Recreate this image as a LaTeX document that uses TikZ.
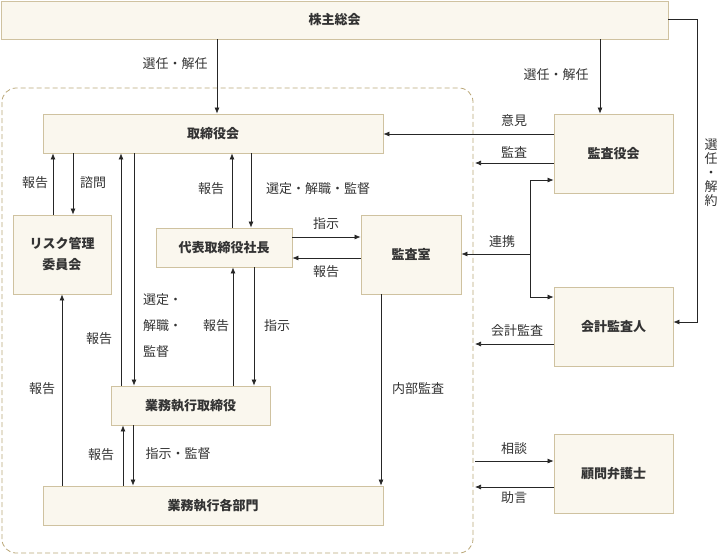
\documentclass[tikz,border=0pt]{standalone}
\usepackage{fontspec}
\newfontfamily\jp{Noto Sans CJK JP}
\usetikzlibrary{arrows.meta,calc}
\definecolor{boxfill}{HTML}{FAF7EE}
\definecolor{boxline}{HTML}{CFC2A0}
\definecolor{dashline}{HTML}{B9A677}
\definecolor{txt}{HTML}{333333}
\tikzset{
 box/.style={draw=boxline,fill=boxfill,line width=0.8pt,text=txt,font=\jp\bfseries\fontsize{13}{21}\selectfont,align=center,inner sep=0pt},
 lbl/.style={text=txt,font=\jp\fontsize{13}{15}\selectfont,inner sep=0pt},
 arr/.style={-{Latex[length=6pt,width=5pt]},line width=0.7pt,draw=black!85},
 ln/.style={line width=0.7pt,draw=black!85}
}
\newcommand{\bx}[6]{\node[box,minimum width=#4-#2,minimum height=#5-#3] (#1) at ({(#2+#4)/2},{(#3+#5)/2}) {#6};}
\begin{document}
\begin{tikzpicture}[x=1pt,y=-1pt]
\useasboundingbox (0,0) rectangle (720,555);
\draw[dashline,dash pattern=on 5pt off 3pt,line width=0.8pt,rounded corners=14pt] (2,88) rectangle (473,553);
\coordinate (R) at (475,0);
\bx{gm}{1}{1}{668}{39}{株主総会}
\bx{board}{43}{114}{383}{153}{取締役会}
\bx{aud}{554}{114}{673}{193}{監査役会}
\bx{risk}{13}{215}{111}{294}{リスク管理\\委員会}
\bx{ceo}{156}{228}{292}{267}{代表取締役社長}
\bx{ia}{361}{215}{461}{294}{監査室}
\bx{acc}{554}{287}{673}{366}{会計監査人}
\bx{exd}{111}{386}{270}{425}{業務執行取締役}
\bx{law}{554}{434}{673}{513}{顧問弁護士}
\bx{dept}{43}{486}{383}{525}{業務執行各部門}

\draw[arr] (gm.south -| 217,0) -- (board.north -| 217,0);
\node[lbl] at (175,64) {選任・解任};
\draw[arr] (gm.south -| 600,0) -- (aud.north -| 600,0);
\node[lbl] at (556,75) {選任・解任};
\draw[arr] (gm.east |- 0,19) -| (697,322) -- (acc.east |- 0,322);
\node[lbl,align=center,font=\jp\fontsize{13}{14}\selectfont] at (711,173) {選\\任\\・\\解\\約};

\draw[arr] (aud.west |- 0,134) -- (board.east |- 0,134);
\node[lbl] at (514,121) {意見};
\draw[arr] (aud.west |- 0,163) -- (R |- 0,163);
\node[lbl] at (514,152) {監査};
\draw[arr] (acc.west |- 0,344) -- (R |- 0,344);
\node[lbl] at (517,331) {会計監査};
\draw[arr] (R |- 0,461) -- (law.west |- 0,461);
\node[lbl] at (514,449) {相談};
\draw[arr] (law.west |- 0,487) -- (R |- 0,487);
\node[lbl] at (514,498) {助言};
\draw[arr] (530,254) -- (ia.east |- 0,254);
\draw[arr] (530,254) |- (aud.west |- 0,180);
\draw[arr] (530,254) |- (acc.west |- 0,297);
\node[lbl] at (502,242) {連携};

\draw[arr] (risk.north -| 53,0) -- (board.south -| 53,0);
\draw[arr] (board.south -| 73,0) -- (risk.north -| 73,0);
\node[lbl] at (35,183) {報告};
\node[lbl] at (93,183) {諮問};

\draw[arr] (ceo.north -| 232,0) -- (board.south -| 232,0);
\draw[arr] (board.south -| 251,0) -- (ceo.north -| 251,0);
\node[lbl] at (211,189) {報告};
\node[lbl] at (318,189) {選定・解職・監督};

\draw[arr] (ceo.east |- 0,237) -- (ia.west |- 0,237);
\node[lbl] at (326,224) {指示};
\draw[arr] (ia.west |- 0,258) -- (ceo.east |- 0,258);
\node[lbl] at (326,272) {報告};

\draw[arr] (exd.north -| 121,0) -- (board.south -| 121,0);
\draw[arr] (board.south -| 134,0) -- (exd.north -| 134,0);
\node[lbl] at (99,339) {報告};
\node[lbl,anchor=west] at (143,300) {選定・};
\node[lbl,anchor=west] at (143,326) {解職・};
\node[lbl,anchor=west] at (143,352) {監督};

\draw[arr] (exd.north -| 233,0) -- (ceo.south -| 233,0);
\draw[arr] (ceo.south -| 254,0) -- (exd.north -| 254,0);
\node[lbl] at (216,326) {報告};
\node[lbl] at (277,326) {指示};

\draw[arr] (ia.south -| 381,0) -- (dept.north -| 381,0);
\node[lbl] at (418,389) {内部監査};
\draw[arr] (dept.north -| 62,0) -- (risk.south -| 62,0);
\node[lbl] at (42,389) {報告};

\draw[arr] (dept.north -| 123,0) -- (exd.south -| 123,0);
\draw[arr] (exd.south -| 133,0) -- (dept.north -| 133,0);
\node[lbl] at (101,455) {報告};
\node[lbl] at (178,454) {指示・監督};
\end{tikzpicture}
\end{document}
